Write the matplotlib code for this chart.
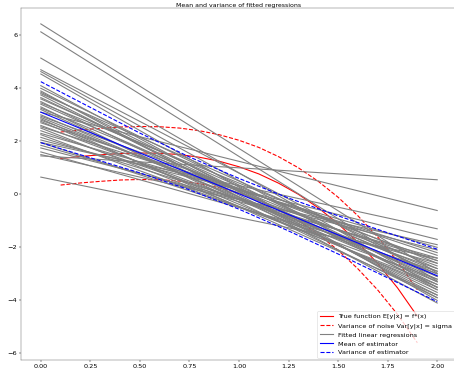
import numpy as np
import matplotlib
matplotlib.use('Agg')
import matplotlib.pyplot as plt

# True function f*(x)
true_x = [0.1, 0.2, 0.3, 0.4, 0.5, 0.6, 0.7, 0.8, 0.9, 1.0,
          1.1, 1.2, 1.3, 1.4, 1.5, 1.6, 1.7, 1.8, 1.9]
true_y = [1.35, 1.43, 1.49, 1.54, 1.56, 1.55, 1.50, 1.40, 1.25, 1.04,
          0.77, 0.42, 0.00, -0.51, -1.11, -1.81, -2.61, -3.53, -4.60]
noise_sigma = 1.0

# Fitted linear regressions: value at x=0 and value at x=2
fit_start = [6.43, 6.13, 5.14, 4.70, 4.63, 4.54, 4.10, 4.00, 3.90, 3.85,
             3.80, 3.75, 3.65, 3.60, 3.50, 3.45, 3.40, 3.30, 3.25, 3.20,
             3.10, 3.00, 2.95, 2.90, 2.85, 2.80, 2.75, 2.70, 2.60, 2.55,
             2.50, 2.40, 2.30, 2.25, 2.15, 2.05, 1.96, 1.95, 1.85, 1.75,
             1.60, 1.50, 1.45, 0.65]
fit_end = [-2.97, -3.27, -3.52, -3.10, -3.60, -4.00, -3.90, -3.30, -4.10, -3.50,
           -2.80, -3.80, -3.40, -3.00, -3.70, -2.60, -3.20, -3.90, -2.90, -3.60,
           -0.61, -3.30, -2.50, -3.10, -3.80, -2.70, -3.50, -2.30, -3.00, -2.20,
           -3.40, -2.80, -2.00, -3.20, -2.50, -1.70, -1.30, -2.90, -2.40, -2.10,
           -2.60, -1.90, 0.55, -2.41]
fit_x = [0.0, 2.0]

# Mean of estimator and its spread band
est_x = [0.0, 0.25, 0.5, 0.75, 1.0, 1.25, 1.5, 1.75, 2.0]
est_mean = [3.10, 2.33, 1.56, 0.79, 0.02, -0.76, -1.53, -2.30, -3.07]
est_upper = [4.25, 3.28, 2.31, 1.41, 0.60, -0.14, -0.81, -1.45, -2.07]
est_lower = [1.95, 1.38, 0.81, 0.17, -0.56, -1.38, -2.25, -3.15, -4.05]

W, H = 454, 372
dpi = W / 12.0
plt.rcParams['font.size'] = 12.5
plt.rcParams['lines.linewidth'] = 2.1
plt.rcParams['axes.edgecolor'] = '#555555'

fig = plt.figure(figsize=(12, H / dpi), dpi=dpi)
ax = fig.add_axes([21 / W, 1 - 360 / H, 436 / W, 352 / H])

# Noise around the true function
true_y = np.array(true_y)
ax.plot(true_x, true_y, color='r', label='True function E[y|x] = f*(x)')
ax.plot(true_x, true_y + noise_sigma, 'r--', label='Variance of noise Var[y|x] = sigma')
ax.plot(true_x, true_y - noise_sigma, 'r--')

# One grey line per fitted regression
for i, (y0, y2) in enumerate(zip(fit_start, fit_end)):
    ax.plot(fit_x, [y0, y2], color='gray',
            label='Fitted linear regressions' if i == 0 else None)

ax.plot(est_x, est_mean, color='b', label='Mean of estimator')
ax.plot(est_x, est_upper, 'b--', label='Variance of estimator')
ax.plot(est_x, est_lower, 'b--')

ax.set_xlim(-0.1, 2.1)
ax.set_ylim(-6.25, 7.03)
ax.set_title('Mean and variance of fitted regressions', fontsize=12, pad=1)
ax.legend(loc='lower right', borderaxespad=0.3)

fig.savefig('out.png', dpi=dpi)
plt.close(fig)
